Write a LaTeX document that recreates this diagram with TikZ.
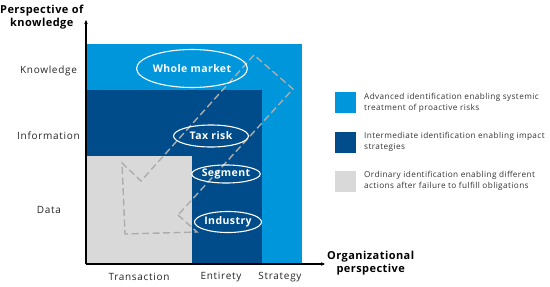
\documentclass[tikz,border=0pt]{standalone}
\usepackage{fontspec}
\setmainfont{Open Sans}[LetterSpace=4]
\newfontfamily\widefont{Open Sans}[LetterSpace=7]
\newfontfamily\legfont{Open Sans}[LetterSpace=5]
\usepackage{xcolor}
\usetikzlibrary{arrows.meta,shapes.geometric}

\definecolor{lightblu}{RGB}{0,150,220}
\definecolor{darkblu}{RGB}{0,76,138}
\definecolor{lightgry}{RGB}{217,217,217}
\definecolor{pathgry}{RGB}{172,172,172}

\tikzset{
  blob/.style={ellipse, draw=white, line width=1.1pt, text=white, inner sep=0pt,
    font=\fontsize{10.5}{12}\selectfont\bfseries},
  levellabel/.style={font=\widefont\fontsize{10}{11}\selectfont, text=black!85},
  axtitle/.style={font=\fontsize{11}{13}\selectfont\bfseries, align=center, inner sep=0pt},
  legbox/.style={minimum width=21pt, minimum height=21pt, inner sep=0pt},
  legtext/.style={anchor=west, align=left, inner sep=0pt, text=black!80,
    font=\legfont\fontsize{8.2}{11}\selectfont},
}

\begin{document}
\begin{tikzpicture}[x=1pt,y=-1pt]
\useasboundingbox (0,0) rectangle (550,287);

% Aree
\fill[lightblu] (86,44) rectangle (302,264);
\fill[darkblu] (86,90) rectangle (262,264);
\fill[lightgry] (86,156) rectangle (192,264);

% Assi
\coordinate (origin) at (86,264);
\coordinate (ytop) at (86,20);
\coordinate (xend) at (325,264);
\draw[-{Stealth[length=4pt,width=3.5pt]}, line width=1.1pt] (origin) -- (ytop);
\draw[-{Stealth[length=4pt,width=3.5pt]}, line width=1.1pt] (origin) -- (xend);

\node[axtitle, anchor=east] (ytitle) at (83.5,17) {Perspective of\\knowledge};
\node[axtitle, anchor=west] (xtitle) at (327,263) {Organizational\\perspective};

% Livelli
\node[levellabel] (knowl) at (48.5,71) {Knowledge};
\node[levellabel] (info) at (48.5,136) {Information};
\node[levellabel] (data) at (49,210) {Data};
\node[levellabel] (trans) at (139,277) {Transaction};
\node[levellabel] (entir) at (221,277) {Entirety};
\node[levellabel] (strat) at (280,277) {Strategy};

% Percorso tratteggiato
\coordinate (p1) at (178,215);
\coordinate (p2) at (197,232);
\coordinate (p3) at (125,234);
\coordinate (p4) at (122,163);
\coordinate (p5) at (141,181);
\coordinate (p6) at (254,55);
\coordinate (p7) at (293,89);
\draw[pathgry, line width=1.4pt, dash pattern=on 7pt off 3.5pt, line join=miter]
  (p1) -- (p2) -- (p3) -- (p4) -- (p5) -- (p6) -- (p7) -- cycle;

% Ellissi
\node[blob, minimum width=106pt, minimum height=38pt] (whole) at (192,68.5) {Whole market};
\node[blob, minimum width=75pt, minimum height=22pt] (tax) at (211,136) {Tax risk};
\node[blob, minimum width=67pt, minimum height=18pt] (segm) at (226,174) {Segment};
\node[blob, minimum width=67pt, minimum height=21pt] (indus) at (228,222) {Industry};

% Legenda
\node[legbox, fill=lightblu] (leg1) at (345.5,102.5) {};
\node[legbox, fill=darkblu] (leg2) at (345.5,142) {};
\node[legbox, fill=lightgry] (leg3) at (345.5,181) {};
\node[legtext] (txt1) at (364,102.5) {Advanced identification enabling systemic\\treatment of proactive risks};
\node[legtext] (txt2) at (364,142) {Intermediate identification enabling impact\\strategies};
\node[legtext] (txt3) at (364,181) {Ordinary identification enabling different\\actions after failure to fulfill obligations};
\end{tikzpicture}
\end{document}
